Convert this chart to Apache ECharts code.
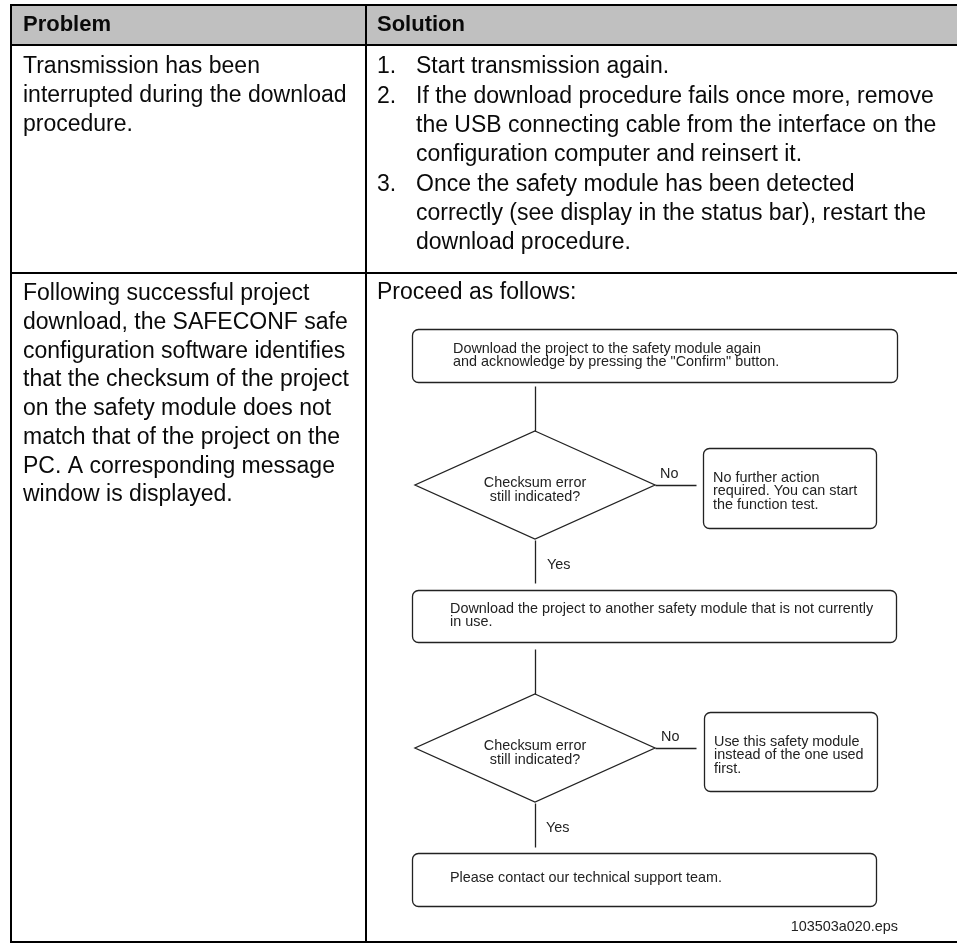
<!DOCTYPE html>
<html>
<head>
<meta charset="utf-8">
<script src="https://cdn.jsdelivr.net/npm/echarts@6/dist/echarts.min.js"></script>
<style>
html,body{margin:0;padding:0;background:#fff;}
#chart{width:957px;height:944px;}
</style>
</head>
<body>
<div id="chart"></div>
<script>
// ---------- content (text) ----------
const headerLabels = ['Problem', 'Solution'];
const problem1Lines = ['Transmission has been', 'interrupted during the download', 'procedure.'];
const problem2Lines = ['Following successful project', 'download, the SAFECONF safe', 'configuration software identifies',
  'that the checksum of the project', 'on the safety module does not', 'match that of the project on the',
  'PC. A corresponding message', 'window is displayed.'];
const stepNumbers = ['1.', '2.', '3.'];
const stepLines = [
  ['Start transmission again.'],
  ['If the download procedure fails once more, remove', 'the USB connecting cable from the interface on the', 'configuration computer and reinsert it.'],
  ['Once the safety module has been detected', 'correctly (see display in the status bar), restart the', 'download procedure.']
];
const introText = 'Proceed as follows:';
const boxTexts = [
  ['Download the project to the safety module again', 'and acknowledge by pressing the "Confirm" button.'],
  ['No further action', 'required. You can start', 'the function test.'],
  ['Download the project to another safety module that is not currently', 'in use.'],
  ['Use this safety module', 'instead of the one used', 'first.'],
  ['Please contact our technical support team.']
];
const decisionTexts = [['Checksum error', 'still indicated?'], ['Checksum error', 'still indicated?']];
const branchLabels = ['No', 'Yes', 'No', 'Yes'];
const figureId = '103503a020.eps';

// ---------- layout (chart units on hidden 957 x 944 axes) ----------
const tableLayout = { left: 11, top: 5, col: 366, right: 957, head: 45, row1: 273, bottom: 942 };
const boxLayout = [ // x0, y0, x1, y1, textX, firstLineY
  [412, 329, 897, 382, 453, 349],
  [703, 448, 876, 528, 713, 478],
  [412, 590, 896, 642, 450, 609],
  [704, 712, 877, 791, 714, 742],
  [412, 853, 876, 906, 450, 878]
];
const diamondLayout = [ // cx, cy, halfW, halfH
  [535, 485, 120, 54],
  [535, 748, 120, 54]
];
const connectorLayout = [
  [535, 386, 535, 431], [655, 485, 696, 485], [535, 540, 535, 583],
  [535, 649, 535, 694], [655, 748, 696, 748], [535, 803, 535, 847]
];
const branchLayout = [[660, 474], [547, 565], [661, 737], [546, 828]];

const TABLE_FONT = '23px "Liberation Sans", Arial, sans-serif';
const HEAD_FONT = 'bold 22px "Liberation Sans", Arial, sans-serif';
const FLOW_FONT = '14.4px "Liberation Sans", Arial, sans-serif';
const TABLE_COLOR = '#0a0a0a';
const FLOW_COLOR = '#222';

// ---------- build text items ----------
const textItems = [];
function addLines(lines, x, y0, lh, font, color, align) {
  lines.forEach((t, i) => textItems.push({ x: x, y: y0 + i * lh, text: t, font: font, color: color, align: align || 'left' }));
}
addLines([headerLabels[0]], 23, 25, 0, HEAD_FONT, TABLE_COLOR);
addLines([headerLabels[1]], 377, 25, 0, HEAD_FONT, TABLE_COLOR);
addLines(problem1Lines, 23, 67, 29, TABLE_FONT, TABLE_COLOR);
addLines(problem2Lines, 23, 294, 28.7, TABLE_FONT, TABLE_COLOR);
(function () {
  let y = 67;
  stepLines.forEach((lines, i) => {
    addLines([stepNumbers[i]], 377, y, 0, TABLE_FONT, TABLE_COLOR);
    addLines(lines, 416, y, 29, TABLE_FONT, TABLE_COLOR);
    y += lines.length * 29 + 1;
  });
})();
addLines([introText], 377, 293, 0, TABLE_FONT, TABLE_COLOR);
boxTexts.forEach((lines, i) => {
  const b = boxLayout[i];
  addLines(lines, b[4], b[5], 13.5, FLOW_FONT, FLOW_COLOR);
});
decisionTexts.forEach((lines, i) => {
  const d = diamondLayout[i];
  addLines(lines, d[0], d[1] - 2, 14, FLOW_FONT, FLOW_COLOR, 'center');
});
branchLabels.forEach((t, i) => addLines([t], branchLayout[i][0], branchLayout[i][1], 0, FLOW_FONT, FLOW_COLOR));
addLines([figureId], 898, 927, 0, FLOW_FONT, FLOW_COLOR, 'right');

// ---------- chart ----------
const chart = echarts.init(document.getElementById('chart'), null, { renderer: 'canvas' });

function P(api, x, y) { return api.coord([x, y]); }

const T = tableLayout;
const tableLines = [
  [T.left, T.top, T.right, T.top], [T.left, T.head, T.right, T.head],
  [T.left, T.row1, T.right, T.row1], [T.left, T.bottom, T.right, T.bottom],
  [T.left, T.top, T.left, T.bottom], [T.col, T.top, T.col, T.bottom]
];

const option = {
  animation: false,
  grid: { left: 0, right: 0, top: 0, bottom: 0 },
  xAxis: { type: 'value', min: 0, max: 957, show: false },
  yAxis: { type: 'value', min: 0, max: 944, inverse: true, show: false },
  series: [
    { // header fill
      type: 'custom', silent: true, z: 1,
      data: [[T.left, T.top, T.right, T.head]],
      renderItem: (params, api) => {
        const a = P(api, api.value(0), api.value(1)), b = P(api, api.value(2), api.value(3));
        return { type: 'rect', shape: { x: a[0], y: a[1], width: b[0] - a[0], height: b[1] - a[1] }, style: { fill: '#c0c0c0' } };
      }
    },
    { // table rules
      type: 'custom', silent: true, z: 3,
      data: tableLines,
      renderItem: (params, api) => {
        const a = P(api, api.value(0), api.value(1)), b = P(api, api.value(2), api.value(3));
        const vert = a[0] === b[0];
        return { type: 'line', shape: { x1: a[0], y1: vert ? a[1] - 1 : a[1], x2: b[0], y2: vert ? b[1] + 1 : b[1] }, style: { stroke: '#000', lineWidth: 2 } };
      }
    },
    { // flow boxes
      type: 'custom', silent: true, z: 4,
      data: boxLayout.map(b => [b[0], b[1], b[2], b[3]]),
      renderItem: (params, api) => {
        const a = P(api, api.value(0), api.value(1)), b = P(api, api.value(2), api.value(3));
        return { type: 'rect', shape: { x: a[0] + 0.5, y: a[1] + 0.5, width: b[0] - a[0], height: b[1] - a[1], r: 6 },
          style: { fill: '#fff', stroke: '#222', lineWidth: 1.3 } };
      }
    },
    { // decisions
      type: 'custom', silent: true, z: 4,
      data: diamondLayout,
      renderItem: (params, api) => {
        const cx = api.value(0), cy = api.value(1), hw = api.value(2), hh = api.value(3);
        const pts = [P(api, cx, cy - hh), P(api, cx + hw, cy), P(api, cx, cy + hh), P(api, cx - hw, cy)];
        return { type: 'polygon', shape: { points: pts }, style: { fill: '#fff', stroke: '#222', lineWidth: 1.3 } };
      }
    },
    { // connectors
      type: 'custom', silent: true, z: 4,
      data: connectorLayout,
      renderItem: (params, api) => {
        const a = P(api, api.value(0), api.value(1)), b = P(api, api.value(2), api.value(3));
        return { type: 'line', shape: { x1: a[0] + 0.5, y1: a[1] + 0.5, x2: b[0] + 0.5, y2: b[1] + 0.5 }, style: { stroke: '#222', lineWidth: 1.3 } };
      }
    },
    { // all text
      type: 'custom', silent: true, z: 6,
      data: textItems.map((t, i) => [t.x, t.y, i]),
      renderItem: (params, api) => {
        const it = textItems[api.value(2)];
        const p = P(api, api.value(0), api.value(1));
        return { type: 'text', x: p[0], y: p[1],
          style: { text: it.text, font: it.font, fill: it.color, align: it.align, verticalAlign: 'middle',
                   textAlign: it.align, textVerticalAlign: 'middle' } };
      }
    }
  ]
};
chart.setOption(option);
</script>
</body>
</html>
